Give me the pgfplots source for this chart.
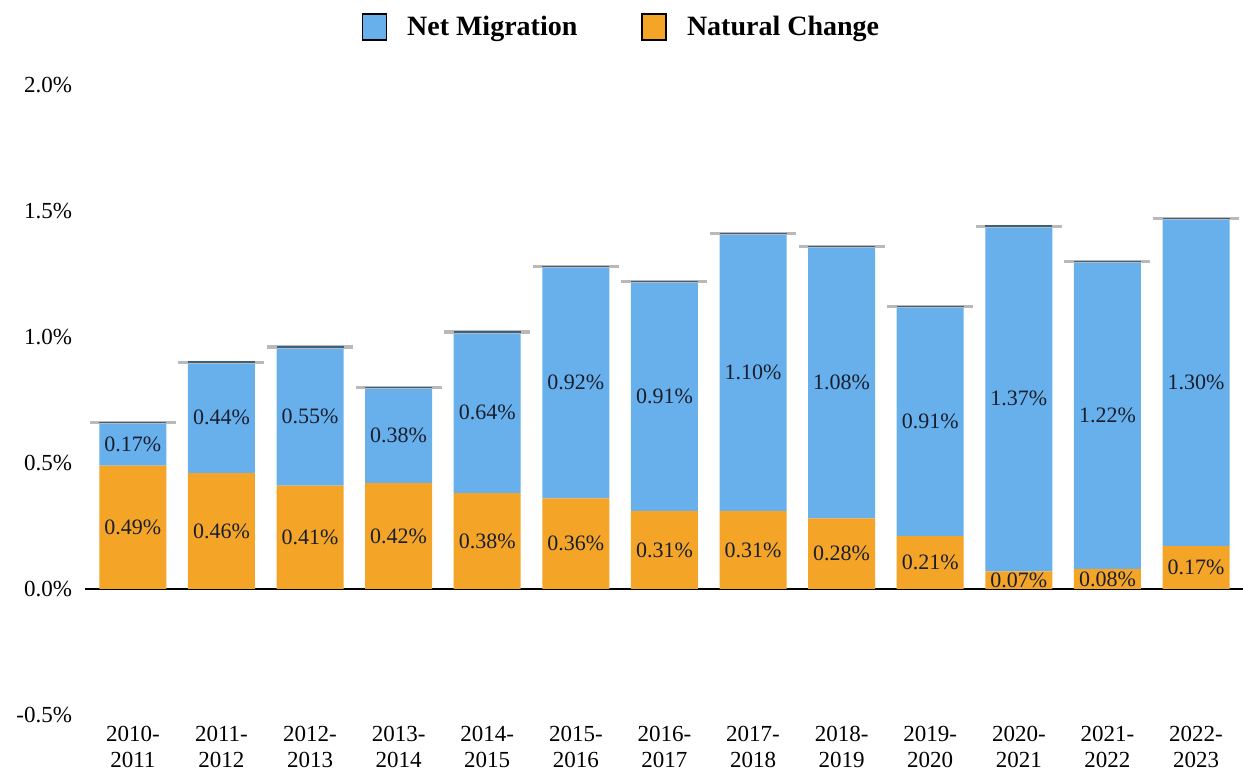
\documentclass[border=0pt]{standalone}
\usepackage{pgfplots}
\usepackage{pgfplotstable}
\pgfplotsset{compat=1.18}
\usepackage{fontspec}
\setmainfont{Liberation Serif}
\definecolor{migblue}{RGB}{103,176,236}
\definecolor{natorange}{RGB}{244,165,40}
\definecolor{labeltext}{RGB}{25,30,45}

\pgfplotstableread{
x nat mig
0 0.49 0.17
1 0.46 0.44
2 0.41 0.55
3 0.42 0.38
4 0.38 0.64
5 0.36 0.92
6 0.31 0.91
7 0.31 1.10
8 0.28 1.08
9 0.21 0.91
10 0.07 1.37
11 0.08 1.22
12 0.17 1.30
}\data
\pgfplotstablecreatecol[expr={\thisrow{nat}+\thisrow{mig}}]{tot}{\data}
\pgfplotstablecreatecol[expr={\thisrow{nat}/2}]{natc}{\data}
\pgfplotstablecreatecol[expr={\thisrow{nat}+\thisrow{mig}/2}]{migc}{\data}

\pgfplotsset{
  base/.style={
    width=579pt, height=315pt, scale only axis,
    at={(0,0)}, anchor=south west,
    xmin=-0.54, xmax=12.53, ymin=-0.5, ymax=2.0,
    axis line style={draw=none},
    major tick length=0pt,
    /pgf/number format/assume math mode=true,
  },
  vlabel/.style={
    draw=none, mark=none, point meta=explicit,
    nodes near coords={\pgfmathprintnumber[fixed,fixed zerofill,precision=2,assume math mode=true]{\pgfplotspointmeta}\%},
    nodes near coords style={anchor=center, font=\fontsize{11}{13}\selectfont, text=labeltext},
  },
}

\begin{document}
\begin{tikzpicture}
\begin{axis}[base, ybar stacked, bar width=33.5pt,
  xtick={0,...,12},
  xticklabels={{2010-\\2011},{2011-\\2012},{2012-\\2013},{2013-\\2014},{2014-\\2015},{2015-\\2016},{2016-\\2017},{2017-\\2018},{2018-\\2019},{2019-\\2020},{2020-\\2021},{2021-\\2022},{2022-\\2023}},
  xticklabel style={align=center, font=\fontsize{11.5}{13}\selectfont, yshift=-2pt},
  ytick={-0.5,0,0.5,1,1.5,2},
  yticklabel={\pgfmathprintnumber[fixed,fixed zerofill,precision=1]{\tick}\%},
  yticklabel style={font=\fontsize{11.5}{13}\selectfont, xshift=-3pt},
  extra y ticks={0}, extra y tick labels={},
  extra y tick style={grid=major, major grid style={black, line width=1.2pt}},
]
\addplot[fill=natorange, draw=none] table[x=x,y=nat]{\data};
\addplot[fill=migblue, draw=none] table[x=x,y=mig]{\data};
\end{axis}
\begin{axis}[base, hide axis,
  legend columns=2,
  legend style={draw=none, fill=none, at={(0.464,1.092)}, anchor=center,
    font=\bfseries\fontsize{14}{16}\selectfont,
    /tikz/every odd column/.append style={column sep=8pt},
    /tikz/every even column/.append style={column sep=30pt}},
]
\addlegendimage{legend image code/.code={\draw[fill=migblue,draw=black,line width=0.8pt] (0pt,-6.5pt) rectangle (12pt,6.5pt);}}
\addlegendentry{Net Migration}
\addlegendimage{legend image code/.code={\draw[fill=natorange,draw=black,line width=0.8pt] (0pt,-6.5pt) rectangle (12pt,6.5pt);}}
\addlegendentry{Natural Change}
\addplot[only marks, mark=-, mark size=21.5pt, mark options={draw=gray!55, line width=1.6pt}, forget plot] table[x=x,y=tot]{\data};
\addplot[only marks, mark=-, mark size=16.75pt, mark options={draw=migblue!55!black, line width=0.7pt}, forget plot] table[x=x,y=tot]{\data};
\addplot[vlabel, forget plot] table[x=x,y=natc,meta=nat]{\data};
\addplot[vlabel, forget plot] table[x=x,y=migc,meta=mig]{\data};
\end{axis}
\pgfresetboundingbox
\path[use as bounding box] (-42.5pt,-29.5pt) rectangle (579pt,357.5pt);
\end{tikzpicture}
\end{document}
